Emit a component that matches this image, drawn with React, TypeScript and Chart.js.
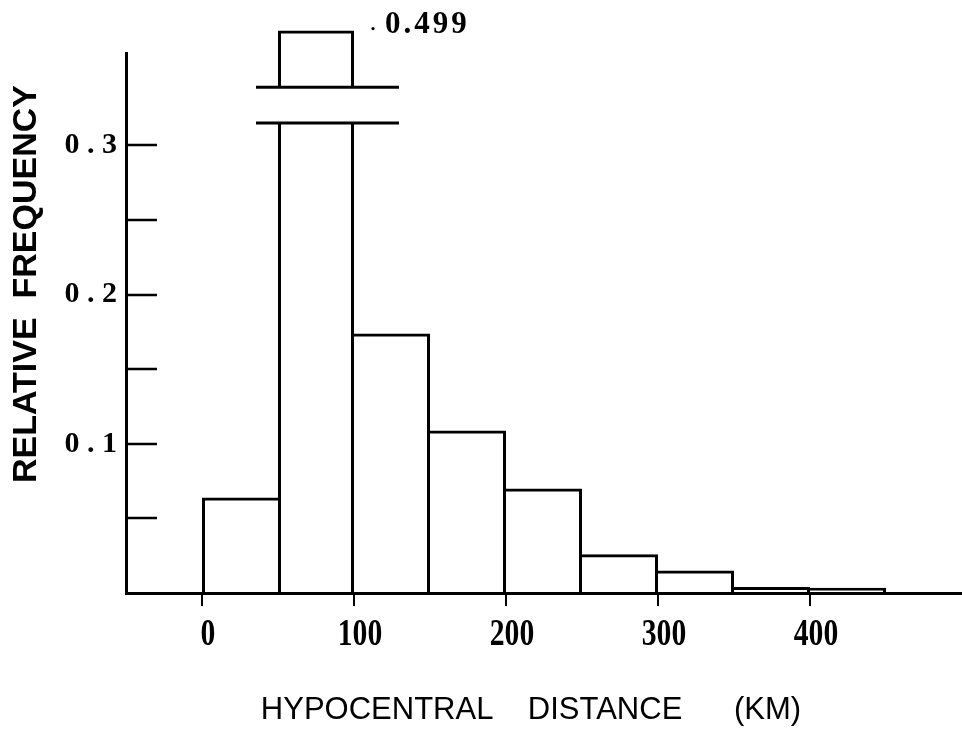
import React, { useEffect, useRef } from 'react';
import { Chart, registerables, LinearScale } from 'chart.js';

Chart.register(...registerables);

// Histogram of hypocentral distances (50 km bins)
const binStarts = [0, 50, 100, 150, 200, 250, 300, 350, 400];
const relativeFrequency = [0.064, 0.499, 0.174, 0.109, 0.07, 0.026, 0.015, 0.004, 0.0035];
const BIN_WIDTH = 50;

const xTickLabels = [0, 100, 200, 300, 400];
const yTickLabels = [0.1, 0.2, 0.3];

// Broken value axis: the span between BREAK_LOW and BREAK_HIGH is squeezed into BREAK_GAP
const BREAK_LOW = 0.315;
const BREAK_HIGH = 0.461;
const BREAK_GAP = 0.024;

function compress(v: number): number {
  if (v <= BREAK_LOW) return v;
  if (v >= BREAK_HIGH) return v - (BREAK_HIGH - BREAK_LOW) + BREAK_GAP;
  return BREAK_LOW + ((v - BREAK_LOW) / (BREAK_HIGH - BREAK_LOW)) * BREAK_GAP;
}

function expand(d: number): number {
  if (d <= BREAK_LOW) return d;
  if (d >= BREAK_LOW + BREAK_GAP) return d + (BREAK_HIGH - BREAK_LOW) - BREAK_GAP;
  return BREAK_LOW + ((d - BREAK_LOW) / BREAK_GAP) * (BREAK_HIGH - BREAK_LOW);
}

class BrokenLinearScale extends LinearScale {
  static id = 'brokenLinear';
  static defaults = {};
  getPixelForValue(value: number, index?: number) {
    return super.getPixelForValue(compress(value), index);
  }
  getValueForPixel(pixel: number) {
    return expand(super.getValueForPixel(pixel));
  }
}
Chart.register(BrokenLinearScale as any);

const SERIF = '"Liberation Serif", "Times New Roman", serif';
const SANS = '"Liberation Sans", Arial, sans-serif';

const histogramDecor = {
  id: 'histogramDecor',
  afterDraw(chart: any) {
    const { ctx, chartArea, scales } = chart;
    const x = scales.x;
    const y = scales.y;
    ctx.save();

    // inward tick marks on the value axis
    ctx.strokeStyle = '#000';
    ctx.lineWidth = 2.5;
    y.ticks.forEach((t: any) => {
      if (t.value > 0 && t.value <= BREAK_LOW) {
        const py = Math.round(y.getPixelForValue(t.value));
        ctx.beginPath();
        ctx.moveTo(chartArea.left, py);
        ctx.lineTo(chartArea.left + 31, py);
        ctx.stroke();
      }
    });

    // axis break across the tallest bar, plus its value label
    const meta = chart.getDatasetMeta(0);
    meta.data.forEach((bar: any, i: number) => {
      const v = relativeFrequency[i];
      if (v < BREAK_HIGH) return;
      const { x: cx, y: top, width } = bar.getProps(['x', 'y', 'width'], true);
      const left = cx - width / 2;
      const right = cx + width / 2;
      const yLo = y.getPixelForValue(BREAK_LOW);
      const yHi = y.getPixelForValue(BREAK_HIGH);
      ctx.fillStyle = '#fff';
      ctx.fillRect(left - 4, yHi, width + 8, yLo - yHi);
      ctx.strokeStyle = '#000';
      ctx.lineWidth = 3;
      [yLo, yHi].forEach((py) => {
        ctx.beginPath();
        ctx.moveTo(left - 22, py);
        ctx.lineTo(right + 45, py);
        ctx.stroke();
      });

      ctx.fillStyle = '#000';
      ctx.beginPath();
      ctx.arc(right + 19, top - 2, 1.6, 0, Math.PI * 2);
      ctx.fill();
      ctx.font = `bold 31px ${SERIF}`;
      (ctx as any).letterSpacing = '3px';
      ctx.textAlign = 'left';
      ctx.textBaseline = 'alphabetic';
      ctx.fillText(v.toFixed(3), right + 31, top + 2.5);
      (ctx as any).letterSpacing = '0px';
    });

    // distance labels (condensed bold serif)
    ctx.fillStyle = '#000';
    ctx.font = `bold 38px ${SERIF}`;
    ctx.textAlign = 'center';
    ctx.textBaseline = 'alphabetic';
    xTickLabels.forEach((v) => {
      const px = x.getPixelForValue(v) + 6;
      ctx.save();
      ctx.translate(px, 645);
      ctx.scale(0.78, 1);
      ctx.fillText(String(v), 0, 0);
      ctx.restore();
    });

    // axis titles
    ctx.save();
    ctx.font = `bold 34px ${SANS}`;
    ctx.textAlign = 'center';
    ctx.textBaseline = 'middle';
    ctx.translate(27, 284);
    ctx.rotate(-Math.PI / 2);
    ctx.fillText('RELATIVE  FREQUENCY', 0, 0);
    ctx.restore();

    ctx.font = `31px ${SANS}`;
    ctx.textAlign = 'center';
    ctx.textBaseline = 'alphabetic';
    ctx.fillText('HYPOCENTRAL    DISTANCE      (KM)', 531, 719);

    ctx.restore();
  },
};

export default function App() {
  const canvasRef = useRef<HTMLCanvasElement | null>(null);

  useEffect(() => {
    const canvas = canvasRef.current;
    if (!canvas) return;
    const last = relativeFrequency.length - 1;
    const chart = new Chart(canvas, {
      type: 'bar',
      data: {
        datasets: [
          {
            data: binStarts.map((s, i) => ({ x: s + BIN_WIDTH / 2, y: relativeFrequency[i] })),
            backgroundColor: 'rgba(0,0,0,0)',
            borderColor: '#000',
            // each shared edge is drawn once, by the taller neighbour
            borderWidth: (c: any) => {
              const i = c.dataIndex;
              const v = relativeFrequency[i];
              const prev = i > 0 ? relativeFrequency[i - 1] : -1;
              const next = i < last ? relativeFrequency[i + 1] : -1;
              return {
                top: 3,
                bottom: 0,
                left: v >= prev ? 3 : 0,
                right: v > next ? 3 : 0,
              };
            },
            borderSkipped: false,
            inflateAmount: 0,
            barPercentage: 1,
            categoryPercentage: 1,
            clip: false,
          } as any,
        ],
      },
      options: {
        animation: false,
        responsive: false,
        events: [],
        layout: { padding: { top: 53, right: 0, left: 0, bottom: 0 } },
        plugins: {
          legend: { display: false },
          tooltip: { enabled: false },
          title: { display: false },
        },
        scales: {
          x: {
            type: 'linear',
            min: -50,
            max: 500,
            offset: false,
            afterFit: (s: any) => {
              s.height = 141;
            },
            ticks: { display: false, stepSize: 100, includeBounds: false },
            grid: {
              display: true,
              offset: false,
              drawOnChartArea: false,
              drawTicks: true,
              tickLength: 13,
              lineWidth: 2,
              color: (c: any) =>
                c.tick && xTickLabels.includes(c.tick.value) ? '#000' : 'rgba(0,0,0,0)',
            },
            border: { display: true, color: '#000', width: 3 },
          },
          y: {
            type: 'brokenLinear' as any,
            min: 0,
            max: 0.362,
            afterFit: (s: any) => {
              s.width = 126;
            },
            ticks: {
              stepSize: 0.05,
              includeBounds: false,
              padding: 9,
              color: '#000',
              font: { family: SERIF, weight: 'bold', size: 30 },
              callback: (v: any) =>
                yTickLabels.some((t) => Math.abs(t - Number(v)) < 1e-9)
                  ? Number(v).toFixed(1).split('').join(' ')
                  : '',
            },
            grid: { display: false, drawTicks: false },
            border: { display: true, color: '#000', width: 3 },
          },
        } as any,
      },
      plugins: [histogramDecor],
    });
    return () => chart.destroy();
  }, []);

  return (
    <div style={{ position: 'fixed', left: 0, top: 0, width: 962, height: 734, background: '#fff' }}>
      <canvas ref={canvasRef} width={962} height={734} style={{ display: 'block' }} />
    </div>
  );
}
